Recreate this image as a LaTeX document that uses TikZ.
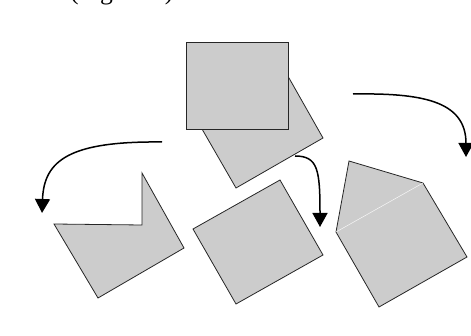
\documentclass[tikz,border=0pt]{standalone}
\usepackage{fontspec}
\setmainfont{Liberation Serif}
\usetikzlibrary{arrows.meta}
\begin{document}
\begin{tikzpicture}[x=1pt,y=-1pt,
  piece/.style={draw=black!85,fill=black!20,line width=0.8pt,line join=miter},
  flow/.style={draw=black,line width=1.5pt,-{Triangle[width=15pt,length=14pt]}}]
\useasboundingbox (0,0) rectangle (471,336);
\clip (0,0) rectangle (471,336);
% caption fragment (cut off at the top)
\node[anchor=base west,inner sep=0pt,font=\fontsize{25.6}{30}\selectfont] (cap) at (70,0) {(Figure 2)};
% rotated piece behind top square
\filldraw[piece] (289,78) -- (323,138) -- (236,188) -- (202,129) -- cycle;
% top square
\filldraw[piece] (186,42) rectangle (288,129);
% left notched piece
\filldraw[piece] (54,224) -- (142,225) -- (142,173) -- (184,248) -- (98,298) -- cycle;
% middle square
\filldraw[piece] (193,229) -- (280,180) -- (323,255) -- (236,304) -- cycle;
% house
\filldraw[piece] (349,161) -- (423,183) -- (467,257) -- (379,307) -- (336,232) -- cycle;
\draw[white!85!black!20,line width=0.5pt] (336,232) -- (423,183);
% arrows
\coordinate (a1) at (162,142);
\coordinate (a2) at (42,213);
\draw[flow] (a1) .. controls (70,141) and (44,160) .. (a2);
\coordinate (b1) at (295,156);
\coordinate (b2) at (320,227);
\draw[flow] (b1) .. controls (318,156) and (320,170) .. (b2);
\coordinate (c1) at (353,94);
\coordinate (c2) at (466,157);
\draw[flow] (c1) .. controls (420,93) and (466,100) .. (c2);
\end{tikzpicture}
\end{document}
